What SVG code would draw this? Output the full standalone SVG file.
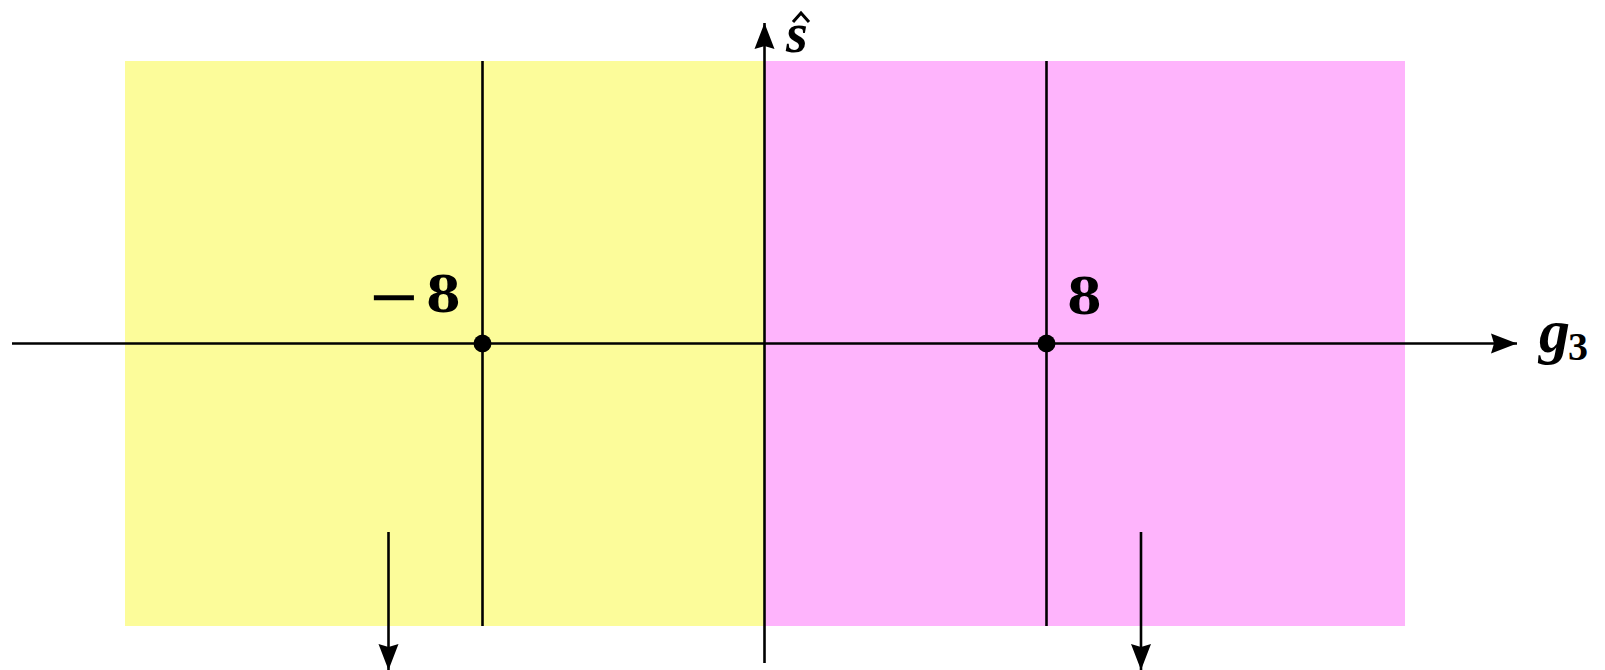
<svg xmlns="http://www.w3.org/2000/svg" width="1605" height="670" viewBox="0 0 1605 670">
<style>
.ln{stroke:#000;stroke-width:2.6;fill:none}
.lbl{font-family:"Liberation Serif","DejaVu Serif",serif;font-weight:bold;fill:#000}
.num{font-family:"DejaVu Serif","Liberation Serif",serif;font-weight:bold;fill:#000;font-size:50px}
</style>
<defs>
<marker id="ah" markerUnits="userSpaceOnUse" markerWidth="28" markerHeight="24" viewBox="0 0 28 24" refX="26" refY="12" orient="auto">
<path d="M0,2 L26,12 L0,22 L3,12 Z" fill="#000"/>
</marker>
</defs>
<g id="regions">
<rect id="yellow" x="125" y="61" width="640" height="565" fill="#fcfc9a"/>
<rect id="pink" x="765" y="61" width="640" height="565" fill="#feb4fc"/>
</g>
<g id="connectors">
<line class="ln" x1="12" y1="343.5" x2="1517" y2="343.5" marker-end="url(#ah)"/>
<line class="ln" x1="764.5" y1="663" x2="764.5" y2="23" marker-end="url(#ah)"/>
<line class="ln" x1="482.5" y1="61" x2="482.5" y2="626"/>
<line class="ln" x1="1046.5" y1="61" x2="1046.5" y2="626"/>
<line class="ln" x1="388.5" y1="532" x2="388.5" y2="670" marker-end="url(#ah)"/>
<line class="ln" x1="1141" y1="532" x2="1141" y2="670" marker-end="url(#ah)"/>
</g>
<g id="node-minus8">
<circle cx="482.5" cy="343.5" r="9" fill="#000"/>
<text class="num" x="367" y="318"><tspan font-weight="normal" font-size="64">−</tspan><tspan x="426" y="312">8</tspan></text>
</g>
<g id="node-8">
<circle cx="1046.5" cy="343.5" r="9" fill="#000"/>
<text class="num" x="1067" y="314">8</text>
</g>
<g id="label-g3">
<text class="lbl" x="1539" y="352" font-size="62" font-style="italic">g<tspan font-size="40" font-style="normal" dx="-2" dy="8">3</tspan></text>
</g>
<g id="label-s">
<text class="lbl" x="786" y="52" font-size="56" font-style="italic">s</text>
<path d="M793,22 L801,13 L809,22" stroke="#000" stroke-width="3" fill="none"/>
</g>
</svg>
